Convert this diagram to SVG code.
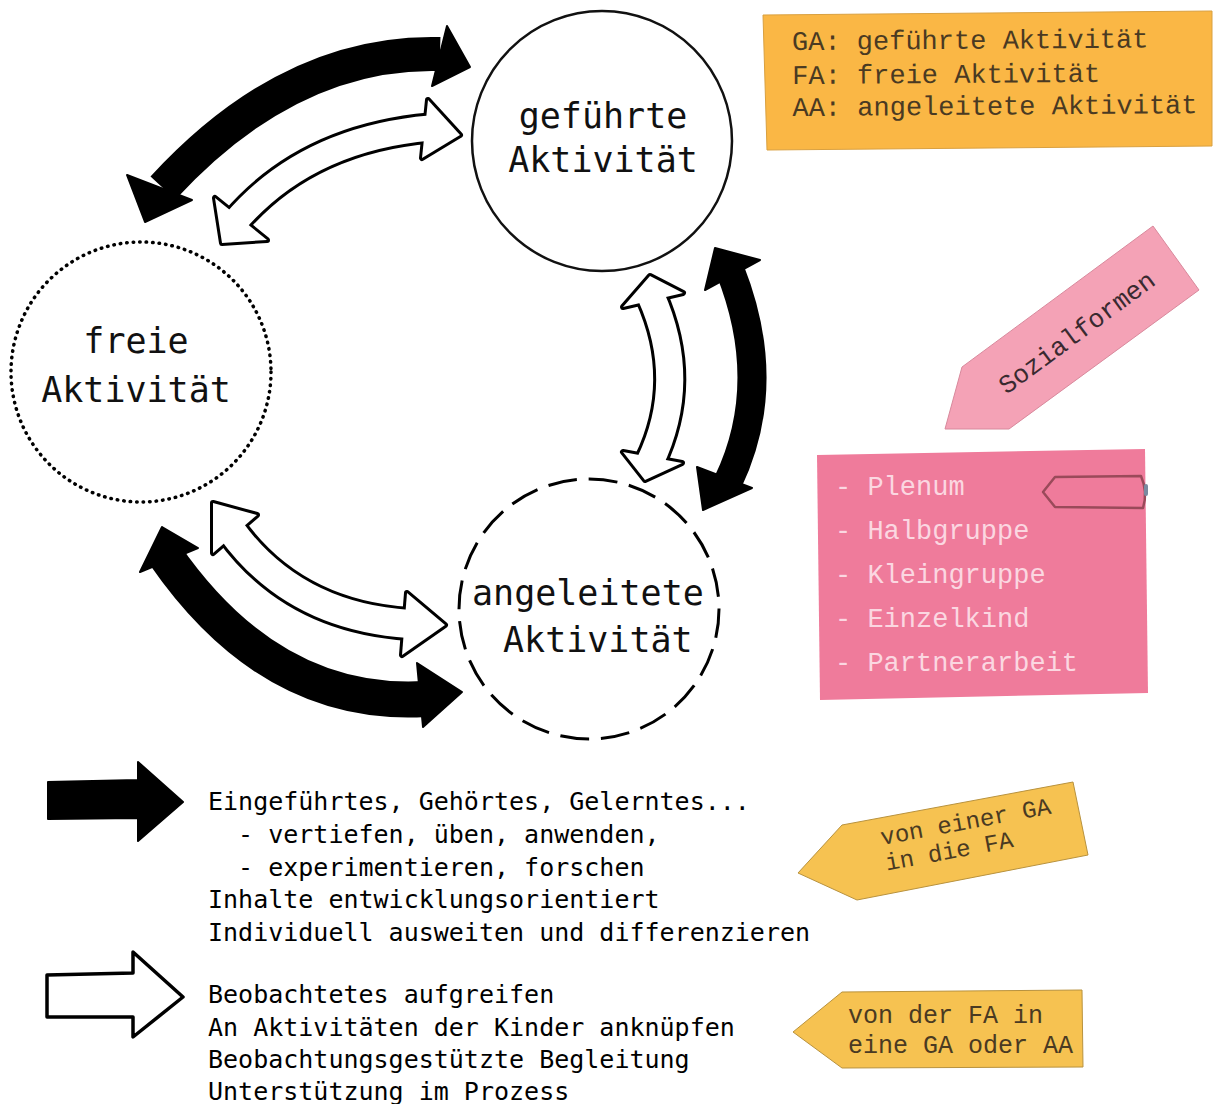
<svg xmlns="http://www.w3.org/2000/svg" width="1213" height="1104" viewBox="0 0 1213 1104">
<style>
.bb{fill:none;stroke:#000;stroke-linecap:butt}
.hb{fill:#000;stroke:#000;stroke-width:2;stroke-linejoin:round}
.ow{fill:none;stroke:#000}
.iw{fill:none;stroke:#fff}
.ho{fill:#000;stroke:#000;stroke-width:6;stroke-linejoin:round}
.hi{fill:#fff}
.mono{font-family:"DejaVu Sans Mono","Liberation Mono",monospace;fill:#000}
.cour{font-family:"Liberation Mono","DejaVu Sans Mono",monospace}
.lbl{font-size:35px;fill:#111}
.leg{font-size:25px;white-space:pre}
.tagtxt{fill:#4a3a22}
.pinktxt{fill:#fbd7e1;font-size:27px;white-space:pre}
</style>
<rect width="1213" height="1104" fill="#fff"/>

<g id="connectors">
  <!-- A1 black top -->
  <g id="a1">
    <path class="bb" stroke-width="34" d="M 163,188 Q 290,50 440,54"/>
    <polygon class="hb" points="447,26 470,67 432,86"/>
    <polygon class="hb" points="127,175 145,222 192,200"/>
  </g>
  <!-- A2 white top -->
  <g id="a2">
    <path class="ow" stroke-width="31" d="M 235,222 Q 306,139 430,128"/>
    <polygon class="ho" points="428,100 460,135 422,158"/>
    <polygon class="ho" points="215,198 222,243 267,240"/>
    <path class="iw" stroke-width="25" d="M 235,222 Q 306,139 430,128"/>
    <polygon class="hi" points="428,100 460,135 422,158"/>
    <polygon class="hi" points="215,198 222,243 267,240"/>
  </g>
  <!-- A3 white right -->
  <g id="a3">
    <path class="ow" stroke-width="33" d="M 651,296 Q 689,381 650,462"/>
    <polygon class="ho" points="650,276 683,293 623,307"/>
    <polygon class="ho" points="623,452 682,463 645,480"/>
    <path class="iw" stroke-width="27" d="M 651,296 Q 689,381 650,462"/>
    <polygon class="hi" points="650,276 683,293 623,307"/>
    <polygon class="hi" points="623,452 682,463 645,480"/>
  </g>
  <!-- A4 black right -->
  <g id="a4">
    <path class="bb" stroke-width="29" d="M 730,270 Q 775,383.5 728,482"/>
    <polygon class="hb" points="715,248 760,260 705,290"/>
    <polygon class="hb" points="697,467 752,488 703,510"/>
  </g>
  <!-- A5 white bottom-left -->
  <g id="a5">
    <path class="ow" stroke-width="34" d="M 231,530 Q 293.5,616.5 409,624"/>
    <polygon class="ho" points="213,503 257,515 213,553"/>
    <polygon class="ho" points="407,593 445,625 402,655"/>
    <path class="iw" stroke-width="28" d="M 231,530 Q 293.5,616.5 409,624"/>
    <polygon class="hi" points="213,503 257,515 213,553"/>
    <polygon class="hi" points="407,593 445,625 402,655"/>
  </g>
  <!-- A6 black bottom-left -->
  <g id="a6">
    <path class="bb" stroke-width="36" d="M 165,555 Q 271,708 425,699"/>
    <polygon class="hb" points="162,527 198,548 140,572"/>
    <polygon class="hb" points="417,663 462,692 423,727"/>
  </g>
</g>

<g id="node-gefuehrte">
  <circle cx="602" cy="141" r="130" fill="#fff" stroke="#111" stroke-width="2.5"/>
  <text class="mono lbl" x="603" y="128" text-anchor="middle">geführte</text>
  <text class="mono lbl" x="603" y="172" text-anchor="middle">Aktivität</text>
</g>

<g id="node-freie">
  <circle cx="141" cy="372" r="130" fill="none" stroke="#000" stroke-width="3.5" stroke-linecap="round" stroke-dasharray="0.5 6"/>
  <text class="mono lbl" x="136" y="353" text-anchor="middle">freie</text>
  <text class="mono lbl" x="136" y="402" text-anchor="middle">Aktivität</text>
</g>

<g id="node-angeleitete">
  <circle cx="589" cy="609" r="130" fill="none" stroke="#000" stroke-width="3" stroke-dasharray="29 11.8"/>
  <text class="mono lbl" x="472" y="605">angeleitete</text>
  <text class="mono lbl" x="503" y="652">Aktivität</text>
</g>

<g id="node-legend-box">
  <polygon points="763,15 1212,11 1212,146 767,150" fill="#fab745" stroke="#d9a040" stroke-width="1"/>
  <g class="cour tagtxt" font-size="27" transform="rotate(-0.4 792 50)">
    <text x="792" y="50">GA: geführte Aktivität</text>
    <text x="792" y="84">FA: freie Aktivität</text>
    <text x="792" y="116">AA: angeleitete Aktivität</text>
  </g>
</g>

<g id="node-sozialformen-tag">
  <polygon points="962,367 1153,226 1199,290 1009,429 945,429" fill="#f4a2b6" stroke="#d8899c" stroke-width="1"/>
  <text class="cour" fill="#3a2a30" font-size="26" text-anchor="middle" transform="translate(1077,333) rotate(-36.5)" x="0" y="8">Sozialformen</text>
</g>

<g id="node-sozialformen-list">
  <polygon points="817,455 1145,449 1148,693 820,700" fill="#ef7b9b"/>
  <path d="M1055,477 L1141,476 Q1148,492 1143,508 L1055,507 L1043,492 Z" fill="none" stroke="#9a4a5a" stroke-width="2.5" stroke-linejoin="round"/>
  <rect x="1144" y="484" width="4" height="12" rx="2" fill="#7a8aa0"/>
  <text class="cour pinktxt" x="835" y="495">- Plenum</text>
  <text class="cour pinktxt" x="835" y="539">- Halbgruppe</text>
  <text class="cour pinktxt" x="835" y="583">- Kleingruppe</text>
  <text class="cour pinktxt" x="835" y="627">- Einzelkind</text>
  <text class="cour pinktxt" x="835" y="671">- Partnerarbeit</text>
</g>

<g id="node-legend-black">
  <polygon points="48,782 138,780 138,762 183,802 138,841 138,818 48,819" fill="#000" stroke="#000" stroke-width="2" stroke-linejoin="round"/>
  <text class="mono leg" x="208" y="810">Eingeführtes, Gehörtes, Gelerntes...</text>
  <text class="mono leg" x="208" y="843">  - vertiefen, üben, anwenden,</text>
  <text class="mono leg" x="208" y="876">  - experimentieren, forschen</text>
  <text class="mono leg" x="208" y="908">Inhalte entwicklungsorientiert</text>
  <text class="mono leg" x="208" y="941">Individuell ausweiten und differenzieren</text>
</g>

<g id="node-legend-white">
  <polygon points="47,975 133,973 133,952 183,997 133,1037 133,1017 47,1017" fill="#fff" stroke="#000" stroke-width="3.5" stroke-linejoin="round"/>
  <text class="mono leg" x="208" y="1003">Beobachtetes aufgreifen</text>
  <text class="mono leg" x="208" y="1036">An Aktivitäten der Kinder anknüpfen</text>
  <text class="mono leg" x="208" y="1068">Beobachtungsgestützte Begleitung</text>
  <text class="mono leg" x="208" y="1100">Unterstützung im Prozess</text>
</g>

<g id="node-tag-ga-fa">
  <polygon points="798,873 842,825 1073,782 1088,855 857,900" fill="#f6c251" stroke="#b8923e" stroke-width="1"/>
  <g class="cour tagtxt" font-size="24" transform="rotate(-10.5 882 845)">
    <text x="882" y="845">von einer GA</text>
    <text x="882" y="871">in die FA</text>
  </g>
</g>

<g id="node-tag-fa-ga">
  <polygon points="793,1032 842,992 1082,990 1083,1067 842,1068" fill="#f6c251" stroke="#b8923e" stroke-width="1"/>
  <g class="cour tagtxt" font-size="25">
    <text x="848" y="1023">von der FA in</text>
    <text x="848" y="1053">eine GA oder AA</text>
  </g>
</g>
</svg>
